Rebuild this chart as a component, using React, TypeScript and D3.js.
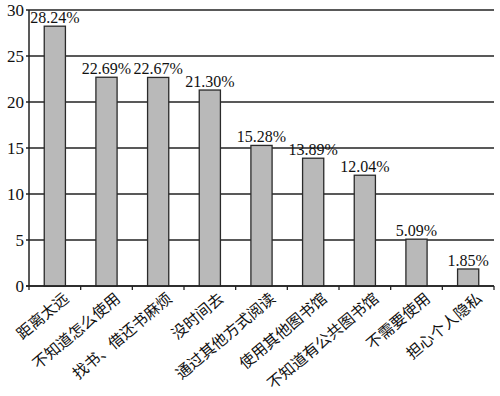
import React from "react";
import * as d3 from "d3";

const categories = [
  "距离太远",
  "不知道怎么使用",
  "找书、借还书麻烦",
  "没时间去",
  "通过其他方式阅读",
  "使用其他图书馆",
  "不知道有公共图书馆",
  "不需要使用",
  "担心个人隐私",
];
const values = [28.24, 22.69, 22.67, 21.3, 15.28, 13.89, 12.04, 5.09, 1.85];
const valueLabels = ["28.24%", "22.69%", "22.67%", "21.30%", "15.28%", "13.89%", "12.04%", "5.09%", "1.85%"];
const yTicks = [0, 5, 10, 15, 20, 25, 30];

const W = 500;
const H = 396;
const left = 29;
const right = 494;
const top = 10;
const bottom = 286;

export default function App() {
  const x = d3.scaleBand<string>().domain(categories).range([left, right]).paddingInner(0.59).paddingOuter(0.295);
  const y = d3.scaleLinear().domain([0, 30]).range([bottom, top]);
  const boundaries = d3.range(categories.length + 1).map((i) => left + i * ((right - left) / categories.length));
  const serif = "'Liberation Serif', 'DejaVu Serif', serif";
  const cjk = "'Noto Sans CJK SC', sans-serif";
  return (
    <div style={{ position: "absolute", left: 0, top: 0, width: W, height: H, background: "#fff" }}>
      <svg width={W} height={H} style={{ display: "block" }}>
        <rect width={W} height={H} fill="#fff" />
        {yTicks.map((t) => (
          <g key={t}>
            <line x1={left - 3} x2={right} y1={y(t)} y2={y(t)} stroke="#222" strokeWidth={1.5} />
            <text x={left - 5} y={y(t)} dy="0.36em" textAnchor="end" style={{ fontFamily: serif, fontSize: 17 }} fill="#111">
              {t}
            </text>
          </g>
        ))}
        <line x1={left} x2={left} y1={top} y2={bottom} stroke="#222" strokeWidth={1.5} />
        {boundaries.map((b, i) => (
          <line key={i} x1={b} x2={b} y1={bottom} y2={bottom + 4} stroke="#222" strokeWidth={1.3} />
        ))}
        {categories.map((c, i) => (
          <g key={c}>
            <rect
              x={x(c)!}
              y={y(values[i])}
              width={x.bandwidth()}
              height={bottom - y(values[i])}
              fill="#b9b9b9"
              stroke="#2a2a2a"
              strokeWidth={1.3}
            />
            <text
              x={x(c)! + x.bandwidth() / 2}
              y={y(values[i]) - 3}
              textAnchor="middle"
              style={{ fontFamily: serif, fontSize: 16 }}
              fill="#111"
            >
              {valueLabels[i]}
            </text>
            <text
              transform={`translate(${x(c)! + x.bandwidth() / 2 + 8},${bottom + 6}) rotate(-40)`}
              textAnchor="end"
              dy="0.7em"
              style={{ fontFamily: cjk, fontSize: 15.5 }}
              fill="#111"
            >
              {c}
            </text>
          </g>
        ))}
        <line x1={left - 3} x2={right} y1={bottom} y2={bottom} stroke="#222" strokeWidth={1.6} />
      </svg>
    </div>
  );
}
